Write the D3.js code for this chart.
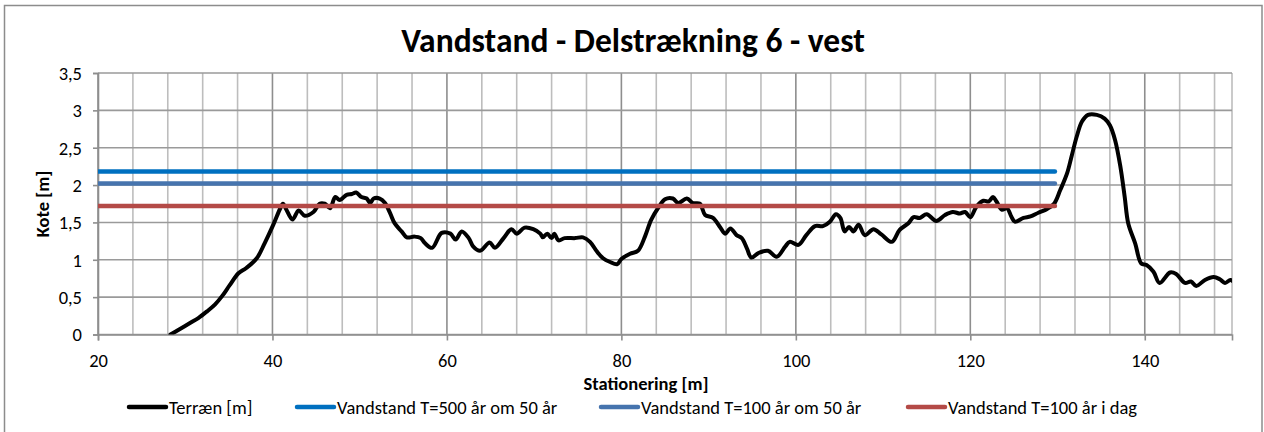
<!DOCTYPE html>
<html>
<head>
<meta charset="utf-8">
<script src="https://cdn.jsdelivr.net/npm/d3@7"></script>
<style>
  html, body { margin: 0; padding: 0; background: #fff; }
  svg { display: block; font-family: Carlito, Calibri, Lato, "Open Sans", sans-serif; }
</style>
</head>
<body>
<svg id="chart" width="1264" height="432"></svg>
<script>
// Terrain profile: station (m) and level (m)
const station = [
  28.3, 29.2, 30.5, 31.5, 32.5, 33.4, 34.2, 35.1, 36.1, 37.0, 38.2, 39.1, 40.1, 40.9, 41.2, 41.6,
  42.3, 43.0, 43.7, 44.7, 45.4, 46.0, 46.6, 47.2, 47.7, 48.5, 49.1, 49.6, 50.2, 50.8, 51.2, 51.6,
  52.3, 52.9, 53.5, 54.0, 54.8, 55.4, 56.3, 57.0, 57.5, 58.3, 59.4, 60.4, 61.0, 61.7, 62.5, 63.0,
  63.8, 64.9, 65.5, 66.5, 67.4, 68.0, 68.9, 69.9, 70.7, 71.0, 71.5, 72.0, 72.3, 72.8, 73.5, 74.7,
  75.6, 76.4, 77.2, 77.9, 78.7, 79.5, 80.0, 81.0, 81.9, 82.7, 83.4, 84.2, 85.0, 85.9, 86.5, 87.5,
  88.2, 89.0, 89.6, 90.5, 91.3, 91.9, 92.5, 93.2, 93.8, 94.4, 94.9, 95.7, 96.8, 97.8, 98.8, 99.3,
  100.3, 101.2, 102.2, 103.1, 103.9, 104.6, 105.1, 105.6, 106.1, 106.6, 107.2, 107.9, 108.9, 109.8, 111.0, 111.9,
  112.9, 113.5, 114.2, 115.0, 116.1, 117.1, 118.0, 118.8, 119.4, 120.0, 120.7, 121.5, 122.1, 122.6, 123.0, 123.6,
  124.2, 124.7, 125.1, 126.1, 126.9, 127.8, 128.8, 129.6, 130.3, 131.1, 131.6, 132.2, 132.8, 133.5, 134.5, 135.4,
  136.0, 136.6, 137.2, 137.7, 138.1, 138.9, 139.6, 140.2, 141.0, 141.7, 142.9, 143.6, 144.6, 145.3, 145.9, 146.9,
  147.9, 148.6, 149.2, 149.8, 150.0
];
const terrain = [
  0.00, 0.06, 0.15, 0.22, 0.31, 0.40, 0.51, 0.66, 0.82, 0.89, 1.02, 1.22, 1.47, 1.69, 1.75, 1.67,
  1.54, 1.66, 1.59, 1.64, 1.75, 1.75, 1.69, 1.84, 1.80, 1.87, 1.88, 1.90, 1.84, 1.82, 1.76, 1.82,
  1.82, 1.76, 1.62, 1.49, 1.38, 1.30, 1.31, 1.29, 1.22, 1.16, 1.36, 1.35, 1.27, 1.38, 1.29, 1.18,
  1.12, 1.23, 1.16, 1.29, 1.41, 1.35, 1.43, 1.41, 1.35, 1.30, 1.35, 1.29, 1.35, 1.26, 1.29, 1.29,
  1.30, 1.24, 1.11, 1.02, 0.97, 0.94, 1.01, 1.08, 1.12, 1.31, 1.53, 1.69, 1.81, 1.82, 1.76, 1.82,
  1.76, 1.75, 1.60, 1.56, 1.44, 1.35, 1.42, 1.33, 1.29, 1.15, 1.03, 1.09, 1.12, 1.04, 1.18, 1.24,
  1.20, 1.33, 1.45, 1.45, 1.51, 1.61, 1.56, 1.38, 1.44, 1.38, 1.47, 1.33, 1.41, 1.34, 1.24, 1.40,
  1.49, 1.57, 1.56, 1.61, 1.52, 1.60, 1.64, 1.62, 1.64, 1.57, 1.71, 1.79, 1.78, 1.84, 1.78, 1.67,
  1.69, 1.58, 1.51, 1.56, 1.58, 1.63, 1.68, 1.75, 1.93, 2.16, 2.38, 2.65, 2.85, 2.94, 2.94, 2.89,
  2.80, 2.60, 2.25, 1.84, 1.49, 1.22, 0.95, 0.93, 0.84, 0.69, 0.83, 0.81, 0.69, 0.71, 0.65, 0.73,
  0.77, 0.74, 0.69, 0.73, 0.72
];

// Design water levels, drawn across the protected stretch
const levelStation = [20, 129.7];
const levelNames = ["Vandstand T=500 år om 50 år", "Vandstand T=100 år om 50 år", "Vandstand T=100 år i dag"];
const levelValues = [2.18, 2.02, 1.72];
const levelColors = ["#0070C0", "#4674AE", "#B44A47"];

const terrainName = "Terræn [m]";
const terrainColor = "#000000";

const xTicks = [20, 40, 60, 80, 100, 120, 140];
const yTicks = [0, 0.5, 1, 1.5, 2, 2.5, 3, 3.5];
const yTickLabels = ["0", "0,5", "1", "1,5", "2", "2,5", "3", "3,5"];

const titleText = "Vandstand - Delstrækning 6 - vest";
const xTitle = "Stationering [m]";
const yTitle = "Kote [m]";

// ---- layout ----
const plot = { left: 98, right: 1232, top: 73, bottom: 334.5 };
const fontFamily = "Carlito, Calibri, Lato, sans-serif";
const labelSize = 18.5;

const svg = d3.select("#chart");

// outer chart frame
svg.append("rect")
  .attr("x", 4.5).attr("y", 5.5)
  .attr("width", 1257.5).attr("height", 440)
  .attr("fill", "#fff")
  .attr("stroke", "#8c8c8c").attr("stroke-width", 1.5);

const x = d3.scaleLinear().domain([20, 150]).range([plot.left, plot.right]);
const y = d3.scaleLinear().domain([0, 3.5]).range([plot.bottom, plot.top]);

// grid: vertical minor every 4 m, darker at labelled stations
const grid = svg.append("g");
d3.range(20, 150.01, 4).forEach(v => {
  const major = Math.abs((v - 20) % 20) < 1e-6;
  grid.append("line")
    .attr("x1", x(v)).attr("x2", x(v))
    .attr("y1", plot.top).attr("y2", plot.bottom)
    .attr("stroke", major ? "#8e8e8e" : "#bdbdbd")
    .attr("stroke-width", 1.6);
});
// right edge of the plot
grid.append("line")
  .attr("x1", x(150)).attr("x2", x(150))
  .attr("y1", plot.top).attr("y2", plot.bottom)
  .attr("stroke", "#bdbdbd").attr("stroke-width", 1.6);
yTicks.forEach(v => {
  grid.append("line")
    .attr("x1", plot.left).attr("x2", plot.right)
    .attr("y1", y(v)).attr("y2", y(v))
    .attr("stroke", "#9a9a9a")
    .attr("stroke-width", 1.6);
});

// axes
const yAxis = d3.axisLeft(y).tickValues(yTicks)
  .tickFormat((d, i) => yTickLabels[i]).tickSize(5).tickPadding(11);
const gy = svg.append("g").attr("transform", `translate(${plot.left},0)`).call(yAxis);
gy.select(".domain").attr("stroke", "#8e8e8e").attr("stroke-width", 1.6);
gy.selectAll(".tick line").attr("stroke", "#8e8e8e").attr("stroke-width", 1.6);
gy.selectAll(".tick text").attr("font-size", labelSize).attr("fill", "#000")
  .attr("font-family", fontFamily).attr("dy", "0.34em");

const xAxis = d3.axisBottom(x).tickValues(xTicks).tickSize(6).tickPadding(13);
const gx = svg.append("g").attr("transform", `translate(0,${plot.bottom})`).call(xAxis);
gx.select(".domain").attr("stroke", "#8e8e8e").attr("stroke-width", 1.6);
gx.selectAll(".tick line").attr("stroke", "#8e8e8e").attr("stroke-width", 1.6);
gx.selectAll(".tick text").attr("font-size", labelSize).attr("fill", "#000")
  .attr("font-family", fontFamily);

// series
svg.append("clipPath").attr("id", "plotClip")
  .append("rect")
  .attr("x", plot.left).attr("y", plot.top - 10)
  .attr("width", plot.right - plot.left).attr("height", plot.bottom - plot.top + 10);

const series = svg.append("g").attr("clip-path", "url(#plotClip)");

const terrainLine = d3.line()
  .x((d, i) => x(station[i]))
  .y(d => y(d))
  .curve(d3.curveCatmullRom.alpha(0.5));

series.append("path")
  .datum(terrain)
  .attr("d", terrainLine)
  .attr("fill", "none")
  .attr("stroke", terrainColor)
  .attr("stroke-width", 4)
  .attr("stroke-linejoin", "round")
  .attr("stroke-linecap", "round");

levelValues.forEach((v, k) => {
  const pts = levelStation.map(s => [x(s), y(v)]);
  series.append("path")
    .attr("d", d3.line()(pts))
    .attr("fill", "none")
    .attr("stroke", levelColors[k])
    .attr("stroke-width", 4.5)
    .attr("stroke-linecap", "round");
});

// titles
svg.append("text")
  .attr("x", 633).attr("y", 52)
  .attr("text-anchor", "middle")
  .attr("font-size", 33.5).attr("font-weight", "bold")
  .text(titleText);

svg.append("text")
  .attr("x", 646).attr("y", 390)
  .attr("text-anchor", "middle")
  .attr("font-size", labelSize).attr("font-weight", "bold")
  .text(xTitle);

svg.append("text")
  .attr("transform", "translate(49,204) rotate(-90)")
  .attr("text-anchor", "middle")
  .attr("font-size", labelSize).attr("font-weight", "bold")
  .text(yTitle);

// legend
const legendItems = [
  { name: terrainName, color: terrainColor },
  ...levelNames.map((n, k) => ({ name: n, color: levelColors[k] }))
];
const legendStart = [128, 296, 600, 907];
const legend = svg.append("g");
legendItems.forEach((it, k) => {
  const g = legend.append("g").attr("transform", `translate(${legendStart[k]},407)`);
  g.append("line").attr("x1", 1).attr("x2", 38)
    .attr("stroke", it.color).attr("stroke-width", 4.5).attr("stroke-linecap", "round");
  g.append("text").attr("x", 41).attr("y", 6.5)
    .attr("font-size", labelSize).text(it.name);
});
</script>
</body>
</html>
